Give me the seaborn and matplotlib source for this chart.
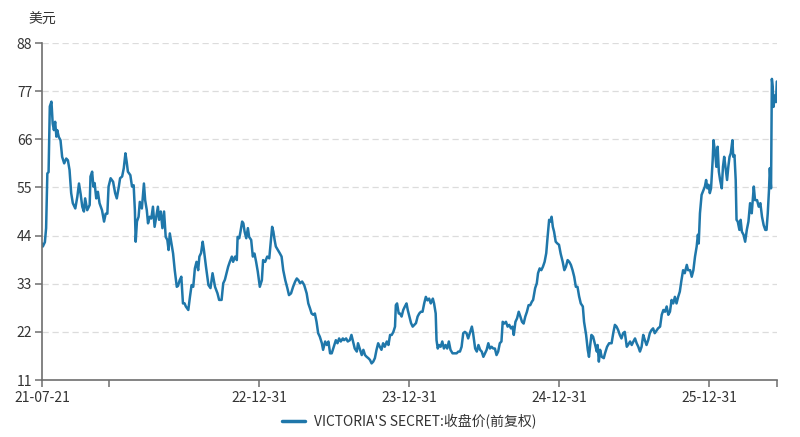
import numpy as np
import pandas as pd
import matplotlib
matplotlib.use("Agg")
import matplotlib.pyplot as plt
import seaborn as sns

sns.set_theme(style="white")
plt.rcParams['font.family'] = ['Noto Sans CJK SC', 'DejaVu Sans']
plt.rcParams['axes.unicode_minus'] = False

# close price; days counted from the first trading day
start = pd.Timestamp("2021-07-21")
days = [0, 2, 7, 10, 13, 16, 19, 23, 26, 29, 32, 35, 37, 41, 45, 49, 54, 59, 63, 67,
        71, 75, 81, 86, 90, 94, 98, 102, 105, 110, 116, 118, 122, 125, 128, 132, 136, 140, 146, 151,
        155, 159, 162, 167, 173, 178, 182, 187, 190, 195, 199, 203, 206, 209, 215, 219, 223, 226, 228, 231,
        235, 238, 243, 248, 251, 255, 258, 262, 266, 270, 274, 278, 282, 285, 289, 293, 297, 301, 305, 308,
        311, 315, 319, 323, 328, 331, 335, 339, 343, 347, 350, 356, 360, 364, 368, 372, 376, 380, 383, 387,
        391, 394, 399, 405, 410, 415, 421, 427, 431, 437, 441, 445, 449, 453, 457, 462, 465, 470, 474, 476,
        480, 483, 487, 490, 493, 497, 501, 504, 509, 513, 517, 521, 525, 530, 535, 538, 543, 548, 553, 557,
        560, 563, 566, 569, 574, 579, 583, 587, 592, 597, 601, 606, 611, 616, 620, 624, 628, 633, 638, 644,
        648, 652, 656, 660, 664, 668, 672, 676, 681, 684, 689, 693, 697, 701, 705, 710, 715, 719, 723, 727,
        732, 735, 740, 744, 749, 753, 757, 761, 766, 769, 774, 778, 782, 786, 790, 794, 798, 802, 806, 810,
        814, 818, 822, 826, 830, 834, 839, 843, 847, 851, 855, 859, 861, 864, 868, 871, 875, 879, 883, 887,
        890, 894, 898, 902, 906, 910, 914, 918, 922, 926, 930, 934, 938, 942, 946, 951, 954, 958, 960, 963,
        966, 970, 974, 978, 982, 986, 990, 994, 999, 1005, 1009, 1013, 1017, 1021, 1025, 1029, 1033, 1037, 1041, 1046,
        1049, 1054, 1058, 1062, 1066, 1070, 1074, 1078, 1082, 1086, 1090, 1094, 1098, 1102, 1106, 1110, 1114, 1118, 1121, 1125,
        1129, 1133, 1137, 1141, 1145, 1148, 1152, 1156, 1160, 1164, 1168, 1172, 1176, 1180, 1184, 1188, 1192, 1195, 1200, 1204,
        1207, 1211, 1215, 1219, 1223, 1227, 1230, 1234, 1237, 1240, 1243, 1246, 1250, 1254, 1258, 1262, 1267, 1271, 1275, 1279,
        1283, 1287, 1291, 1295, 1299, 1303, 1307, 1311, 1316, 1319, 1324, 1328, 1331, 1334, 1337, 1341, 1346, 1350, 1352, 1355,
        1358, 1362, 1367, 1370, 1375, 1380, 1386, 1390, 1394, 1398, 1402, 1406, 1410, 1414, 1418, 1423, 1426, 1431, 1435, 1439,
        1443, 1447, 1451, 1455, 1459, 1463, 1467, 1471, 1475, 1479, 1483, 1487, 1491, 1496, 1499, 1504, 1508, 1512, 1516, 1520,
        1524, 1528, 1532, 1536, 1540, 1544, 1548, 1552, 1556, 1560, 1564, 1569, 1572, 1577, 1581, 1585, 1589, 1593, 1596, 1598,
        1601, 1605, 1608, 1613, 1616, 1619, 1622, 1625, 1628, 1632, 1634, 1638, 1641, 1644, 1647, 1650, 1654, 1657, 1660, 1663,
        1667, 1670, 1673, 1676, 1680, 1682, 1685, 1688, 1690, 1693, 1697, 1700, 1703, 1707, 1711, 1715, 1719, 1723, 1727, 1732,
        1735, 1740, 1744, 1748, 1752, 1756, 1760, 1763, 1766, 1769, 1771, 1774, 1776, 1778, 1780, 1783, 1786, 1788]
close = [42.2, 41.5, 42.5, 45.7, 58.2, 58.5, 73.5, 74.6, 69.6, 68.1, 70.0, 66.6, 68.1, 66.5, 65.8, 62.0, 60.5, 61.6, 61.2, 59.0,
         53.7, 51.4, 50.2, 52.9, 55.9, 53.5, 50.6, 49.5, 52.5, 49.8, 51.0, 57.5, 58.6, 55.2, 56.0, 52.5, 54.0, 51.4, 49.8, 47.2,
         49.0, 49.0, 55.2, 57.1, 56.3, 53.7, 52.5, 55.2, 57.1, 57.5, 59.4, 62.8, 60.9, 58.6, 57.8, 55.2, 55.5, 49.8, 42.6, 47.2,
         48.3, 51.7, 50.2, 55.9, 52.1, 49.8, 46.8, 48.3, 47.9, 50.6, 46.0, 48.3, 50.6, 47.6, 49.5, 45.7, 49.5, 43.7, 43.0, 40.7,
         44.5, 42.2, 39.9, 36.1, 32.3, 32.5, 33.8, 34.6, 28.5, 28.5, 27.8, 27.0, 30.0, 32.7, 32.3, 36.5, 38.0, 36.1, 39.2, 40.0,
         42.6, 40.7, 36.9, 32.7, 32.0, 35.4, 32.3, 30.8, 29.3, 29.3, 33.1, 33.9, 35.4, 36.9, 38.0, 39.2, 38.0, 39.2, 38.4, 43.7,
         43.4, 44.9, 47.2, 46.8, 44.9, 43.4, 45.7, 43.7, 43.0, 39.2, 39.9, 38.0, 35.8, 32.3, 33.8, 38.4, 38.0, 39.2, 38.8, 43.0,
         46.0, 44.9, 43.0, 41.5, 40.7, 39.9, 39.2, 36.1, 33.8, 32.0, 30.4, 30.8, 32.3, 33.5, 34.2, 33.8, 33.1, 33.5, 32.7, 30.8,
         28.5, 27.4, 26.2, 25.9, 26.2, 24.3, 21.7, 20.9, 19.4, 17.9, 19.8, 19.0, 19.8, 17.1, 17.1, 18.6, 20.1, 19.4, 20.5, 19.8,
         20.5, 20.1, 20.5, 19.8, 20.1, 21.3, 19.8, 18.2, 17.5, 19.4, 17.9, 16.7, 17.9, 16.7, 16.3, 16.0, 15.6, 14.8, 15.2, 16.0,
         17.9, 19.4, 18.6, 17.9, 19.4, 18.6, 19.8, 19.0, 21.3, 21.3, 22.0, 23.2, 28.1, 28.5, 26.2, 26.2, 25.5, 27.0, 27.8, 28.5,
         27.0, 25.5, 24.0, 23.2, 23.6, 24.0, 25.5, 26.2, 26.6, 26.6, 28.5, 30.0, 29.2, 29.6, 28.5, 29.6, 28.5, 26.2, 20.1, 18.2,
         19.0, 18.6, 19.8, 18.2, 19.0, 18.2, 19.8, 17.9, 17.1, 17.1, 17.1, 17.5, 17.5, 18.6, 21.7, 22.0, 21.7, 20.5, 21.7, 23.2,
         21.7, 18.2, 17.5, 19.0, 17.9, 17.5, 16.3, 17.1, 17.9, 19.4, 18.2, 18.6, 18.2, 18.2, 16.7, 17.5, 19.4, 19.8, 24.3, 23.9,
         24.3, 23.2, 23.6, 22.8, 23.2, 21.3, 24.3, 25.1, 26.6, 25.5, 24.3, 23.9, 25.5, 26.6, 28.1, 28.1, 28.9, 29.3, 32.0, 33.1,
         35.4, 36.5, 36.1, 36.9, 38.0, 40.0, 43.4, 47.6, 47.2, 48.3, 46.0, 44.9, 42.6, 42.2, 41.9, 39.9, 38.0, 36.1, 36.9, 38.4,
         38.0, 37.3, 36.1, 34.6, 32.3, 32.3, 30.1, 28.5, 27.8, 24.3, 21.3, 17.9, 16.3, 19.0, 21.3, 20.9, 19.0, 17.5, 19.0, 15.2,
         17.9, 16.3, 16.0, 17.1, 18.6, 19.4, 19.4, 21.7, 23.6, 23.2, 22.4, 21.3, 20.5, 21.7, 22.0, 18.6, 19.0, 19.8, 19.0, 19.8,
         20.5, 19.4, 18.6, 17.5, 18.6, 21.3, 20.1, 19.0, 20.1, 21.7, 22.4, 22.8, 21.7, 22.4, 22.8, 23.2, 25.9, 27.0, 26.6, 27.8,
         25.9, 26.6, 29.3, 28.5, 30.0, 28.5, 30.0, 31.2, 33.8, 36.1, 35.4, 37.3, 36.1, 36.1, 34.6, 36.1, 39.2, 41.5, 44.2, 42.2,
         49.1, 53.3, 54.0, 55.2, 56.7, 54.8, 55.6, 53.7, 54.8, 61.3, 65.8, 62.8, 59.7, 64.3, 58.6, 56.7, 54.8, 59.7, 62.0, 59.7,
         56.7, 59.7, 62.0, 62.8, 65.8, 62.0, 62.4, 56.7, 47.6, 47.2, 45.3, 47.6, 44.9, 44.2, 42.6, 45.3, 47.2, 51.4, 49.1, 55.2,
         52.1, 52.1, 50.6, 51.4, 48.3, 46.4, 45.3, 45.3, 49.1, 54.4, 59.4, 54.8, 79.8, 78.0, 73.4, 76.0, 74.5, 79.2]

series_name = "VICTORIA'S SECRET:收盘价(前复权)"
tick_dates = ["2021-07-21", "2021-12-31", "2022-12-31", "2023-12-31",
              "2024-12-31", "2025-12-31", "2026-06-13"]
tick_labels = ["21-07-21", "", "22-12-31", "23-12-31", "24-12-31", "25-12-31", ""]
y_ticks = [11, 22, 33, 44, 55, 66, 77, 88]

df = pd.DataFrame({"date": start + pd.to_timedelta(days, unit="D"), "close": close})

fig = plt.figure(figsize=(8, 4.37), dpi=100)
ax = fig.add_axes([0.0525, 0.1304, 0.9185, 0.7712])

sns.lineplot(data=df, x="date", y="close", ax=ax, color="#1f77aa",
             linewidth=1.8, label=series_name, legend=False)

ax.set_xlim(pd.Timestamp(tick_dates[0]), pd.Timestamp(tick_dates[-1]))
ax.set_ylim(11, 88)
ax.set_xticks(pd.to_datetime(tick_dates))
ax.set_xticklabels(tick_labels)
ax.set_yticks(y_ticks)
ax.set_yticklabels([str(v) for v in y_ticks])
ax.set_xlabel("")
ax.set_ylabel("")

for v in y_ticks[1:]:
    ax.axhline(v, color="#dcdcdc", linewidth=0.9, linestyle=(0, (5, 3)), zorder=0)

for side in ["top", "right"]:
    ax.spines[side].set_visible(False)
for side in ["left", "bottom"]:
    ax.spines[side].set_color("#6e6e6e")
    ax.spines[side].set_linewidth(1.2)

ax.tick_params(axis="both", which="both", direction="out", length=5, width=1.1,
               color="#6e6e6e", labelsize=10, labelcolor="#333333", pad=2,
               bottom=True, left=True)
ax.tick_params(axis="x", pad=3)

fig.text(0.035, 0.955, "美元", fontsize=10, color="#333333", ha="left", va="center")

handles, labels = ax.get_legend_handles_labels()
fig.legend(handles, labels, loc="lower center", bbox_to_anchor=(0.512, -0.01),
           frameon=False, fontsize=10, handlelength=1.6, handletextpad=0.7,
           labelcolor="#333333")
for line in fig.legends[0].get_lines():
    line.set_linewidth(2.5)

fig.savefig("out.png", dpi=100)
